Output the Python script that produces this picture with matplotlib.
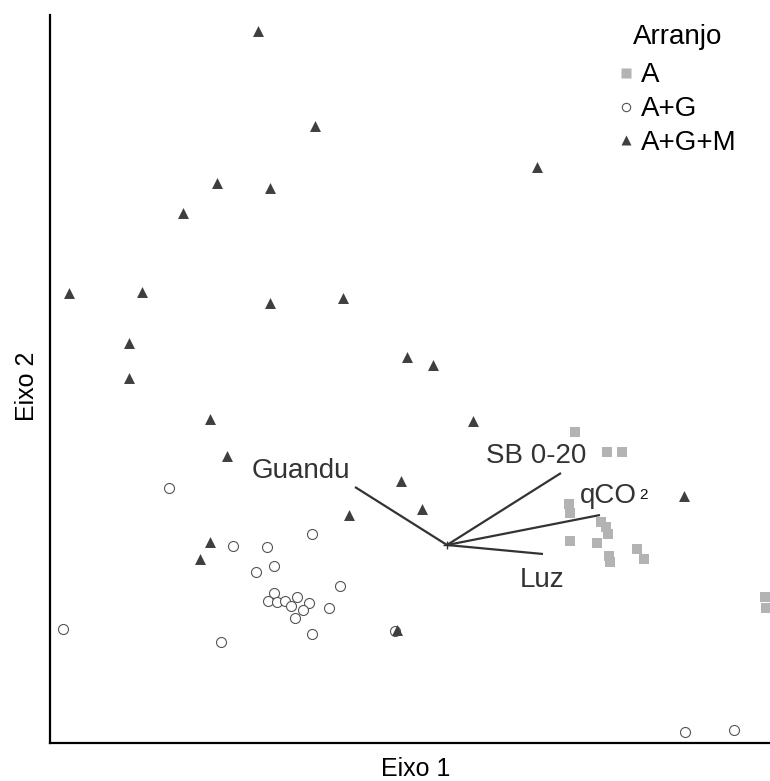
import matplotlib.pyplot as plt
from matplotlib.lines import Line2D

# Escores da ordenação (Eixo 1, Eixo 2) para cada arranjo
a_x = [1.28, 1.60, 1.75, 1.22, 1.23, 1.54, 1.59, 1.61, 1.23, 1.50, 1.62, 1.63, 1.90, 1.97, 3.18, 3.19]
a_y = [1.13, 0.93, 0.93, 0.41, 0.32, 0.23, 0.18, 0.11, 0.04, 0.02, -0.11, -0.17, -0.04, -0.14, -0.52, -0.63]

ag_x = [-2.78, -2.14, -1.80, -1.35, -1.91, -1.73, -1.07, -1.73, -1.79, -1.70, -1.62, -1.56,
        -1.50, -1.38, -1.44, -1.52, -1.18, -1.35, -2.26, -3.84, -0.52, 2.38, 2.87]
ag_y = [0.57, -0.01, -0.02, 0.11, -0.27, -0.21, -0.41, -0.48, -0.56, -0.57, -0.56, -0.61,
        -0.52, -0.58, -0.65, -0.73, -0.63, -0.89, -0.97, -0.84, -0.86, -1.87, -1.85]

agm_x = [-1.89, -1.32, -2.30, -1.77, -2.64, 0.90, -3.78, -3.05, -1.77, -1.04, -3.18, -3.18,
         -0.40, -0.14, -2.37, -2.20, 0.26, -0.46, -0.25, -0.98, 2.37, -2.37, -2.47, -0.50]
agm_y = [5.14, 4.19, 3.62, 3.57, 3.32, 3.78, 2.52, 2.53, 2.42, 2.47, 2.02, 1.67,
         1.88, 1.80, 1.26, 0.89, 1.24, 0.64, 0.36, 0.30, 0.49, 0.03, -0.14, -0.85]

# Vetores das variáveis ambientais
vet_nomes = ["Guandu", "SB 0-20", "qCO", "Luz"]
vet_x = [-0.92, 1.14, 1.53, 0.96]
vet_y = [0.58, 0.72, 0.30, -0.09]
# posição dos rótulos (canto esquerdo, linha de base)
rot_x = [-1.95, 0.39, 1.33, 0.73]
rot_y = [0.67, 0.82, 0.42, -0.42]

plt.rcParams["font.family"] = ["Liberation Sans", "DejaVu Sans"]

cor_texto = "#333333"
cor_tri = "#3f3f3f"
cor_quad = "#b3b3b3"

fig = plt.figure(figsize=(7.7, 7.81), dpi=100)
ax = fig.add_axes([50 / 770, 38 / 781, 720 / 770, 728 / 781])

ax.scatter(a_x, a_y, marker="s", s=52, color=cor_quad, linewidths=0, zorder=2)
ax.scatter(ag_x, ag_y, marker="o", s=52, facecolors="white", edgecolors="#555555",
           linewidths=0.8, zorder=3)
ax.scatter(agm_x, agm_y, marker="^", s=62, color=cor_tri, linewidths=0, zorder=4)

# Vetores a partir da origem
for vx, vy in zip(vet_x, vet_y):
    ax.plot([0, vx], [0, vy], color=cor_texto, lw=1.6, zorder=5, solid_capstyle="butt")
ax.plot([0], [0], marker="+", ms=6, mew=1, color=cor_texto, zorder=5)

tam_font = 20
textos = []
for nome, tx, ty in zip(vet_nomes, rot_x, rot_y):
    t = ax.text(tx, ty, nome, fontsize=tam_font, color=cor_texto, ha="left", va="baseline", zorder=6)
    textos.append(t)
# expoente do qCO2
ax.annotate("2", xy=(1, 0), xycoords=textos[2], xytext=(1.5, 5), textcoords="offset points",
            fontsize=11, color="#111111", ha="left", va="bottom")

ax.set_xlim(-3.97, 3.23)
ax.set_ylim(-1.98, 5.30)
ax.set_xticks([])
ax.set_yticks([])
for lado in ["top", "right"]:
    ax.spines[lado].set_visible(False)
for lado in ["left", "bottom"]:
    ax.spines[lado].set_linewidth(1.6)
    ax.spines[lado].set_color("black")

# Rótulos dos eixos
fig.text(416 / 770, 1 - 776 / 781, "Eixo 1", fontsize=18, color="black", ha="center", va="baseline")
fig.text(27 / 770, 1 - 386 / 781, "Eixo 2", fontsize=18, color="black", ha="center", va="center",
         rotation=90)

# Legenda
handles = [
    Line2D([], [], ls="none", marker="s", ms=7.5, mfc=cor_quad, mec="none"),
    Line2D([], [], ls="none", marker="o", ms=6, mfc="white", mec="#555555", mew=0.8),
    Line2D([], [], ls="none", marker="^", ms=7, mfc=cor_tri, mec="none"),
]
leg = ax.legend(handles, ["A", "A+G", "A+G+M"], title="Arranjo", fontsize=tam_font,
                title_fontsize=tam_font, frameon=False, loc="upper left",
                bbox_to_anchor=(619 / 770, 1 - 24 / 781), bbox_transform=fig.transFigure,
                borderpad=0, borderaxespad=0, handlelength=0.5, handletextpad=0.3,
                labelspacing=0.28)
leg._legend_box.sep = 9
for t in leg.get_texts():
    t.set_color("black")
leg.get_title().set_color("black")

plt.savefig("out.png", dpi=100)
